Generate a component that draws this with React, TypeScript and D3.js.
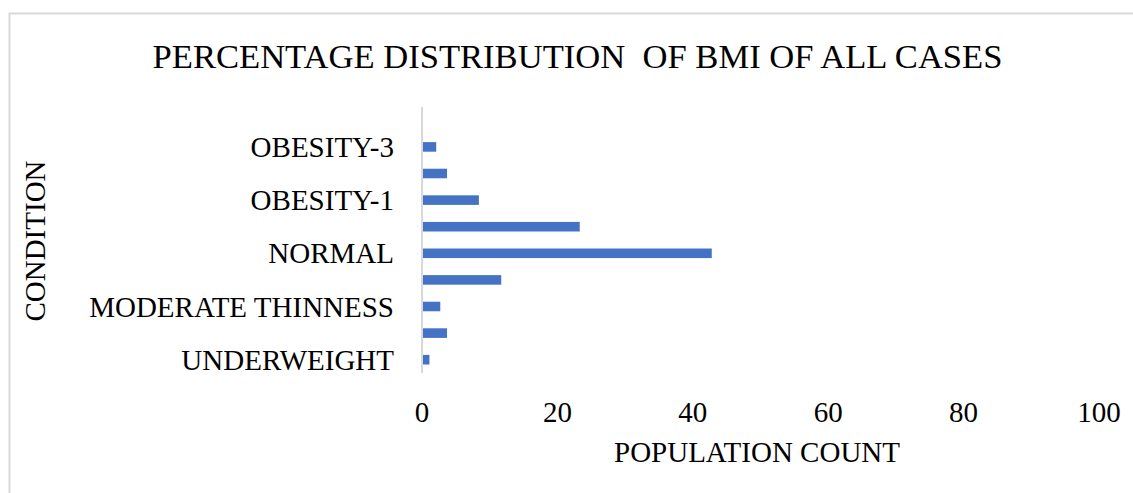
import React from "react";
import * as d3 from "d3";

const categories = [
  "UNDERWEIGHT",
  "SEVERE THINNESS",
  "MODERATE THINNESS",
  "MILD THINNESS",
  "NORMAL",
  "OVERWEIGHT",
  "OBESITY-1",
  "OBESITY-2",
  "OBESITY-3",
  " ",
];
const values = [1.1, 3.7, 2.7, 11.7, 42.8, 23.3, 8.4, 3.7, 2.1, 0];
const xTicks = [0, 20, 40, 60, 80, 100];
const titleText = "PERCENTAGE DISTRIBUTION  OF BMI OF ALL CASES";
const xTitle = "POPULATION COUNT";
const yTitle = "CONDITION";

const W = 1133;
const H = 493;
const plot = { left: 422, right: 1099, top: 107, bottom: 373 };
const FONT = "'Liberation Serif', 'Times New Roman', serif";

export default function App() {
  const x = d3.scaleLinear().domain([0, 100]).range([plot.left, plot.right]);
  const y = d3
    .scaleBand<string>()
    .domain(categories)
    .range([plot.bottom, plot.top])
    .paddingInner(0.64)
    .paddingOuter(0.32);

  return (
    <svg
      width={W}
      height={H}
      style={{ position: "absolute", left: 0, top: 0, background: "#fff" }}
      fontFamily={FONT}
    >
      <rect x={9.5} y={13.5} width={W + 20} height={H + 20} fill="#fff" stroke="#d9d9d9" strokeWidth={2} />
      <text x={577.5} y={68} textAnchor="middle" fontSize={34.6} fill="#000" style={{ whiteSpace: "pre" }}>
        {titleText}
      </text>
      {categories.map((c, i) => (
        <rect
          key={c + i}
          x={x(0)}
          y={y(c)!}
          width={x(values[i]) - x(0)}
          height={y.bandwidth()}
          fill="#4472c4"
        />
      ))}
      <line x1={plot.left} x2={plot.left} y1={plot.top} y2={plot.bottom} stroke="#d9d9d9" strokeWidth={2} />
      {categories.map((c, i) =>
        i % 2 === 0 ? (
          <text
            key={"l" + i}
            x={394}
            y={y(c)! + y.bandwidth() / 2}
            dy="0.35em"
            textAnchor="end"
            fontSize={29}
            fill="#000"
          >
            {c}
          </text>
        ) : null
      )}
      {xTicks.map((t) => (
        <text key={"t" + t} x={x(t)} y={422} textAnchor="middle" fontSize={29} fill="#000">
          {t}
        </text>
      ))}
      <text x={757} y={462} textAnchor="middle" fontSize={29} fill="#000">
        {xTitle}
      </text>
      <text
        transform={`translate(45, 241) rotate(-90)`}
        textAnchor="middle"
        fontSize={29}
        fill="#000"
      >
        {yTitle}
      </text>
    </svg>
  );
}
